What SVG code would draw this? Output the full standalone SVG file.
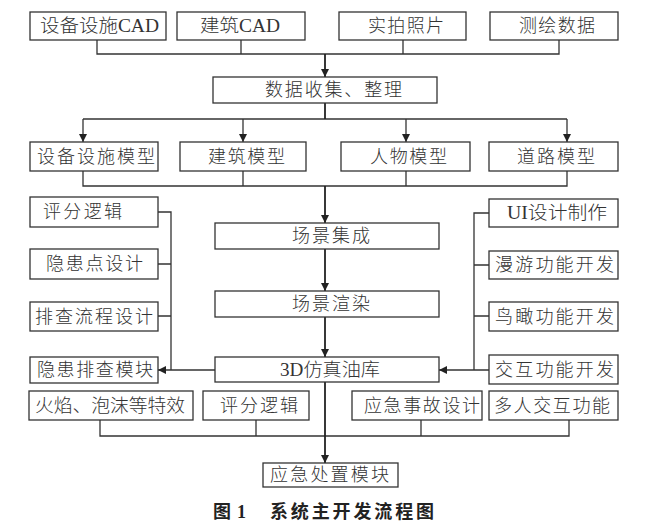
<svg xmlns="http://www.w3.org/2000/svg" width="657" height="527" viewBox="0 0 657 527">
<defs>
<marker id="ah" viewBox="0 0 10 10" refX="10" refY="5" markerWidth="8" markerHeight="8" markerUnits="userSpaceOnUse" orient="auto">
<path d="M0,0 L10,5 L0,10 z" fill="#222"/>
</marker>
<style>
.b{fill:#fff;stroke:#333;stroke-width:1.3}
.t{font-family:"Liberation Serif","Noto Sans CJK SC",serif;font-size:18px;font-weight:300;fill:#333;text-anchor:middle;dominant-baseline:central}
.c{fill:none;stroke:#333;stroke-width:1.3}
.m{fill:none;stroke:#222;stroke-width:1.8}
.cap{font-family:"Liberation Serif","Noto Sans CJK SC",serif;font-size:18px;font-weight:bold;fill:#222;dominant-baseline:central}
</style>
</defs>
<rect width="657" height="527" fill="#fff"/>
<g id="connectors">
<path class="c" d="M97,40 V54 H559 V40 M241,40 V54 M403,40 V54"/>
<path class="m" d="M325,54 V77" marker-end="url(#ah)"/>
<path class="c" d="M83,119 H567"/>
<path class="m" d="M325,103 V119"/>
<path class="c" d="M83,119 V142" marker-end="url(#ah)"/>
<path class="c" d="M243,119 V142" marker-end="url(#ah)"/>
<path class="c" d="M406,119 V142" marker-end="url(#ah)"/>
<path class="c" d="M567,119 V142" marker-end="url(#ah)"/>
<path class="c" d="M83,171 V186 H567 V171 M243,171 V186 M406,171 V186"/>
<path class="m" d="M325,186 V223" marker-end="url(#ah)"/>
<path class="m" d="M325,249 V291" marker-end="url(#ah)"/>
<path class="m" d="M325,317 V357" marker-end="url(#ah)"/>
<path class="c" d="M158,212 H171 V370 M158,264 H171 M158,316 H171"/>
<path class="c" d="M215,370 H158" marker-end="url(#ah)"/>
<path class="c" d="M489,213 H474 V370 M489,265 H474 M489,316 H474 M489,370 H474"/>
<path class="c" d="M474,370 H439" marker-end="url(#ah)"/>
<path class="c" d="M100,420 V436 H569 V420 M256,420 V436 M421,420 V436"/>
<path class="m" d="M325,382 V463" marker-end="url(#ah)"/>
</g>
<g id="n1"><rect class="b" x="30" y="12" width="136" height="28"/><text class="t" x="99.5" y="26" textLength="119" lengthAdjust="spacingAndGlyphs">设备设施CAD</text></g>
<g id="n2"><rect class="b" x="177" y="12" width="128" height="28"/><text class="t" x="240" y="26" textLength="80" lengthAdjust="spacingAndGlyphs">建筑CAD</text></g>
<g id="n3"><rect class="b" x="339" y="12" width="127" height="28"/><text class="t" x="406" y="26" textLength="76" lengthAdjust="spacing">实拍照片</text></g>
<g id="n4"><rect class="b" x="490" y="12" width="128" height="28"/><text class="t" x="557" y="26" textLength="76" lengthAdjust="spacing">测绘数据</text></g>
<g id="n5"><rect class="b" x="213" y="77" width="224" height="26"/><text class="t" x="333.5" y="90" textLength="137" lengthAdjust="spacing">数据收集、整理</text></g>
<g id="n6"><rect class="b" x="30" y="142" width="128" height="29"/><text class="t" x="96" y="156.5" textLength="118" lengthAdjust="spacing">设备设施模型</text></g>
<g id="n7"><rect class="b" x="180" y="142" width="126" height="29"/><text class="t" x="246.5" y="156.5" textLength="77" lengthAdjust="spacing">建筑模型</text></g>
<g id="n8"><rect class="b" x="341" y="142" width="129" height="29"/><text class="t" x="408.5" y="156.5" textLength="77" lengthAdjust="spacing">人物模型</text></g>
<g id="n9"><rect class="b" x="489" y="142" width="129" height="29"/><text class="t" x="556" y="156.5" textLength="78" lengthAdjust="spacing">道路模型</text></g>
<g id="n10"><rect class="b" x="30" y="197" width="128" height="30"/><text class="t" x="82.5" y="212" textLength="79" lengthAdjust="spacing">评分逻辑</text></g>
<g id="n11"><rect class="b" x="30" y="249" width="128" height="30"/><text class="t" x="94.5" y="264" textLength="97" lengthAdjust="spacing">隐患点设计</text></g>
<g id="n12"><rect class="b" x="30" y="302" width="128" height="29"/><text class="t" x="94" y="316.5" textLength="118" lengthAdjust="spacing">排查流程设计</text></g>
<g id="n13"><rect class="b" x="30" y="357" width="128" height="26"/><text class="t" x="95" y="370" textLength="116" lengthAdjust="spacing">隐患排查模块</text></g>
<g id="n14"><rect class="b" x="215" y="223" width="224" height="26"/><text class="t" x="331" y="236" textLength="78" lengthAdjust="spacing">场景集成</text></g>
<g id="n15"><rect class="b" x="215" y="291" width="224" height="26"/><text class="t" x="331" y="304" textLength="78" lengthAdjust="spacing">场景渲染</text></g>
<g id="n16"><rect class="b" x="215" y="357" width="224" height="25"/><text class="t" x="330" y="369.5" textLength="100" lengthAdjust="spacingAndGlyphs">3D仿真油库</text></g>
<g id="n17"><rect class="b" x="489" y="199" width="129" height="28"/><text class="t" x="557" y="213" textLength="100" lengthAdjust="spacingAndGlyphs">UI设计制作</text></g>
<g id="n18"><rect class="b" x="489" y="251" width="129" height="28"/><text class="t" x="554.5" y="265" textLength="119" lengthAdjust="spacing">漫游功能开发</text></g>
<g id="n19"><rect class="b" x="489" y="302" width="129" height="29"/><text class="t" x="554.5" y="316.5" textLength="119" lengthAdjust="spacing">鸟瞰功能开发</text></g>
<g id="n20"><rect class="b" x="489" y="355" width="129" height="29"/><text class="t" x="554.5" y="369.5" textLength="119" lengthAdjust="spacing">交互功能开发</text></g>
<g id="n21"><rect class="b" x="29" y="391" width="164" height="29"/><text class="t" x="110" y="405.5" textLength="150" lengthAdjust="spacingAndGlyphs">火焰、泡沫等特效</text></g>
<g id="n22"><rect class="b" x="203" y="391" width="106" height="29"/><text class="t" x="259" y="405.5" textLength="78" lengthAdjust="spacing">评分逻辑</text></g>
<g id="n23"><rect class="b" x="352" y="391" width="130" height="29"/><text class="t" x="422" y="405.5" textLength="116" lengthAdjust="spacing">应急事故设计</text></g>
<g id="n24"><rect class="b" x="489" y="391" width="129" height="29"/><text class="t" x="552" y="405.5" textLength="116" lengthAdjust="spacing">多人交互功能</text></g>
<g id="n25"><rect class="b" x="263" y="463" width="135" height="24"/><text class="t" x="329.5" y="475" textLength="119" lengthAdjust="spacing">应急处置模块</text></g>
<text class="cap" x="213" y="512">图<tspan x="237">1</tspan><tspan x="270" textLength="164" lengthAdjust="spacing">系统主开发流程图</tspan></text>
</svg>
